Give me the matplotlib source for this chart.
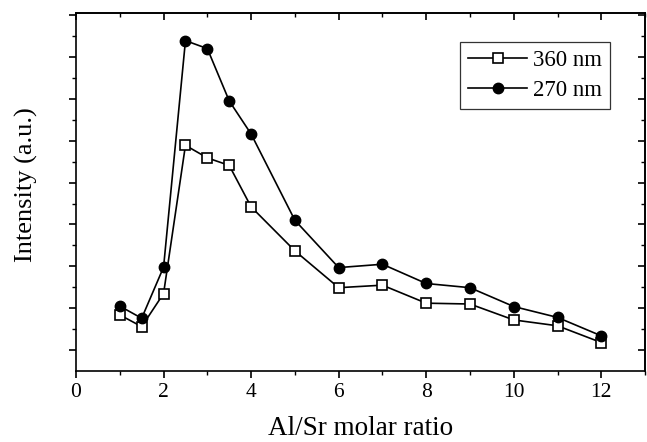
import matplotlib.pyplot as plt
import numpy as np

# Data (arbitrary intensity units)
ratio = [1, 1.5, 2, 2.5, 3, 3.5, 4, 5, 6, 7, 8, 9, 10, 11, 12]
i_360 = [1.34, 1.06, 1.85, 5.39, 5.09, 4.91, 3.92, 2.87, 1.99, 2.05, 1.62, 1.60, 1.22, 1.08, 0.68]
i_270 = [1.55, 1.26, 2.48, 7.89, 7.70, 6.45, 5.66, 3.60, 2.47, 2.55, 2.09, 1.99, 1.54, 1.28, 0.84]

plt.rcParams['font.family'] = ['Liberation Serif', 'DejaVu Serif']

fig = plt.figure(figsize=(6.47, 4.42), dpi=100)
ax = fig.add_axes([0.1175, 0.1606, 0.8795, 0.81])

ax.plot(ratio, i_360, '-s', color='black', mfc='white', mec='black',
        ms=7.5, mew=1.2, lw=1.2, label='360 nm')
ax.plot(ratio, i_270, '-o', color='black', ms=7.5, lw=1.2, label='270 nm')

ax.set_xlim(0, 13)
ax.set_ylim(0, 8.55)
xmaj = np.arange(0, 13, 2)
xmin = np.arange(1, 13.1, 2)
ymaj = np.arange(0.5, 8.6, 1)
ymin = np.arange(1, 8.6, 1)
ax.set_xticks(xmaj)
ax.set_xticks(xmin, minor=True)
ax.set_yticks(ymaj)
ax.set_yticks(ymin, minor=True)
ax.set_yticklabels([])

ax.tick_params(axis='both', which='major', length=5, width=1.2, labelsize=15.5,
               direction='out', top=False, right=False)
ax.tick_params(axis='both', which='minor', length=3, width=1.0,
               direction='out', top=False, right=False)

# mirrored ticks on top/right point inward, like Origin
top = ax.secondary_xaxis('top')
top.set_xticks(xmaj)
top.set_xticks(xmin, minor=True)
top.set_xticklabels([])
top.tick_params(which='major', direction='in', length=5, width=1.2)
top.tick_params(which='minor', direction='in', length=3, width=1.0)
right = ax.secondary_yaxis('right')
right.set_yticks(ymaj)
right.set_yticks(ymin, minor=True)
right.set_yticklabels([])
right.tick_params(which='major', direction='in', length=5, width=1.2)
right.tick_params(which='minor', direction='in', length=3, width=1.0)

for sp in ax.spines.values():
    sp.set_linewidth(1.2)
top.spines['top'].set_linewidth(1.2)
right.spines['right'].set_linewidth(1.2)

ax.set_xlabel('Al/Sr molar ratio', fontsize=19.5)
ax.set_ylabel('Intensity (a.u.)', fontsize=19)
ax.xaxis.set_label_coords(0.5, -0.127)
ax.yaxis.set_label_coords(-0.067, 0.52)

leg = ax.legend(loc='upper right', bbox_to_anchor=(0.9386, 0.919), fontsize=16.5,
                frameon=True, fancybox=False, edgecolor='black',
                handlelength=2.6, handletextpad=0.25, borderpad=0.35,
                labelspacing=0.4, borderaxespad=0)
leg.get_frame().set_linewidth(0.9)

fig.savefig('out.png', dpi=100)
